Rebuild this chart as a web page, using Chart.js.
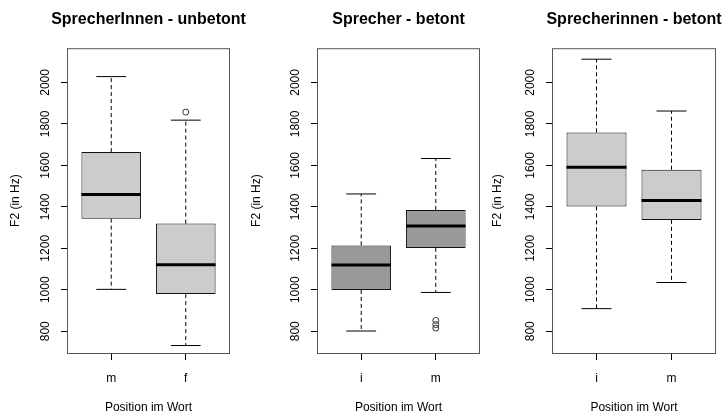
<!DOCTYPE html>
<html>
<head>
<meta charset="utf-8">
<title>F2 Boxplots</title>
<script src="https://cdn.jsdelivr.net/npm/chart.js@4.4.1/dist/chart.umd.min.js"></script>
<style>
  html, body { margin: 0; padding: 0; background: #fff; overflow: hidden; }
  #wrap { position: relative; width: 723px; height: 417px; overflow: hidden; }
  #wrap canvas { position: absolute; top: 0; }
</style>
</head>
<body>
<div id="wrap"></div>
<script>
// Kennwerte je Panel (F2 in Hz)
const titles = ['SprecherInnen - unbetont', 'Sprecher - betont', 'Sprecherinnen - betont'];
const categories = [['m', 'f'], ['i', 'm'], ['i', 'm']];
const whiskerLow = [[1002, 731], [801, 987], [909, 1035]];
const quartile1 = [[1343, 979], [999, 1202], [1402, 1337]];
const medians = [[1459, 1121], [1120, 1308], [1591, 1430]];
const quartile3 = [[1664, 1319], [1214, 1385], [1759, 1579]];
const whiskerHigh = [[2028, 1818], [1462, 1633], [2112, 1862]];
const outliers = [[[], [1857]], [[], [852, 832, 815]], [[], []]];
const yTicks = [800, 1000, 1200, 1400, 1600, 1800, 2000];

const boxColors = ['#cccccc', '#999999', '#cccccc'];
// linker Rand jeder Canvas und Breite der y-Achse; die Canvas ist symmetrisch
// um den Plotbereich, damit der Titel darueber zentriert steht
const panelLeft = [0, 241, 482];
const axisWidth = [68, 77, 71];
const plotWidth = [161, 161, 162];
const fam = "'Liberation Sans', Arial, sans-serif";

// Rahmen um den Plotbereich
const frame = {
  id: 'frame',
  afterDraw(chart) {
    const { ctx, chartArea: a } = chart;
    ctx.save();
    ctx.strokeStyle = '#555';
    ctx.lineWidth = 1;
    ctx.strokeRect(a.left - 0.5, a.top + 0.5, a.right - a.left + 1, a.bottom - a.top);
    ctx.restore();
  }
};

const makePanel = (p) => {
  const cats = categories[p];
  const pos = cats.map((c, i) => i + 1);

  const canvas = document.createElement('canvas');
  const w = 2 * axisWidth[p] + plotWidth[p];
  canvas.width = w;
  canvas.height = 417;
  canvas.style.left = panelLeft[p] + 'px';
  document.getElementById('wrap').appendChild(canvas);

  const boxes = pos.map((x, i) => ({ x: x, y: [quartile1[p][i], quartile3[p][i]] }));
  const whiskers = [];
  const caps = [];
  const meds = [];
  const outPts = [];
  pos.forEach((x, i) => {
    whiskers.push({ x, y: quartile3[p][i] }, { x, y: whiskerHigh[p][i] }, { x, y: null },
                  { x, y: quartile1[p][i] }, { x, y: whiskerLow[p][i] }, { x, y: null });
    caps.push({ x: x - 0.2, y: whiskerHigh[p][i] }, { x: x + 0.2, y: whiskerHigh[p][i] }, { x, y: null },
              { x: x - 0.2, y: whiskerLow[p][i] }, { x: x + 0.2, y: whiskerLow[p][i] }, { x, y: null });
    meds.push({ x: x - 0.4, y: medians[p][i] }, { x: x + 0.4, y: medians[p][i] }, { x, y: null });
    outliers[p][i].forEach(v => outPts.push({ x, y: v }));
  });

  const font = { family: fam, size: 12 };

  new Chart(canvas, {
    type: 'bar',
    data: {
      datasets: [
        { type: 'line', data: meds, borderColor: '#000', borderWidth: 3, pointRadius: 0, borderCapStyle: 'butt', order: 0 },
        { type: 'line', data: outPts, showLine: false, pointRadius: 3, pointStyle: 'circle',
          pointBorderColor: '#333', pointBackgroundColor: 'rgba(0,0,0,0)', pointBorderWidth: 1, order: 1 },
        { type: 'line', data: caps, borderColor: '#000', borderWidth: 1, pointRadius: 0, order: 2 },
        { type: 'line', data: whiskers, borderColor: '#000', borderWidth: 1, borderDash: [4, 3], pointRadius: 0, order: 2 },
        { type: 'bar', data: boxes, backgroundColor: boxColors[p], borderColor: '#111', borderWidth: 1,
          borderSkipped: false, barPercentage: 0.8, categoryPercentage: 1, order: 3 }
      ]
    },
    options: {
      responsive: false,
      animation: false,
      events: [],
      layout: { padding: 0 },
      plugins: {
        legend: { display: false },
        tooltip: { enabled: false },
        title: {
          display: true, text: titles[p], color: '#000',
          font: { family: fam, size: 16, weight: 'bold' },
          padding: { top: 10, bottom: 19 }
        }
      },
      scales: {
        x: {
          type: 'linear', min: 0.42, max: 2.58, offset: false,
          afterFit: s => { s.height = 64; },
          afterBuildTicks: s => { s.ticks = pos.map(v => ({ value: v })); },
          ticks: { callback: v => cats[v - 1], font, color: '#000', padding: 11, autoSkip: false, maxRotation: 0 },
          grid: { drawOnChartArea: false, drawTicks: true, tickLength: 7, color: '#000', offset: false },
          border: { display: false },
          title: { display: true, text: 'Position im Wort', font, color: '#000', padding: { top: 0, bottom: 2 } }
        },
        y: {
          min: 695, max: 2165,
          afterFit: s => { s.width = axisWidth[p]; },
          afterBuildTicks: s => { s.ticks = yTicks.map(v => ({ value: v })); },
          ticks: { callback: v => String(v), minRotation: 90, maxRotation: 90, crossAlign: 'center', padding: 2, font, color: '#000' },
          grid: { drawOnChartArea: false, drawTicks: true, tickLength: 7, color: '#000' },
          border: { display: false },
          title: { display: true, text: 'F2 (in Hz)', font, color: '#000', padding: { top: 8, bottom: 0 } }
        },
        // leerer Rand rechts, haelt den Plotbereich mittig unter dem Titel
        spacer: {
          type: 'linear', position: 'right', display: true,
          afterFit: s => { s.width = w - axisWidth[p] - plotWidth[p]; },
          ticks: { display: false },
          grid: { display: false, drawTicks: false },
          border: { display: false }
        }
      }
    },
    plugins: [frame]
  });
};

[0, 1, 2].forEach(makePanel);
</script>
</body>
</html>
